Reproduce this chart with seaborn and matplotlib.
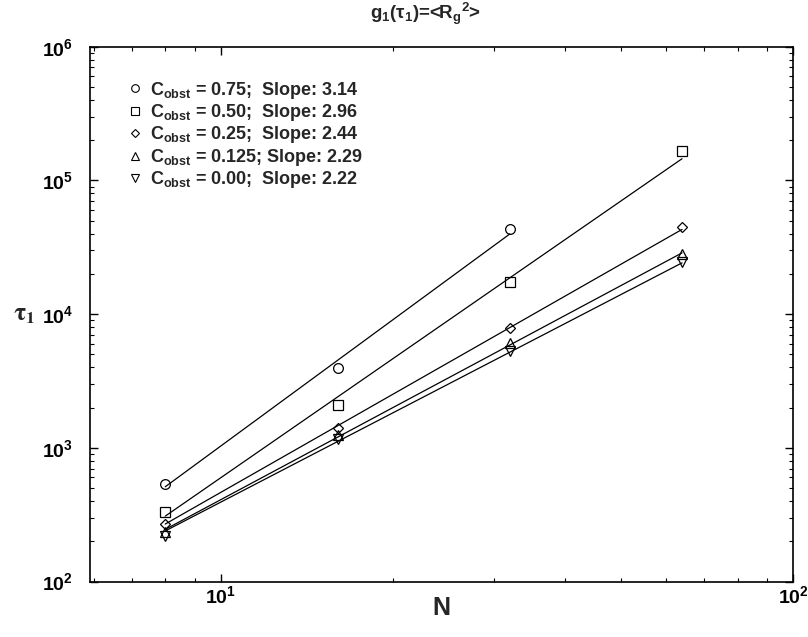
import numpy as np
import pandas as pd
import matplotlib
matplotlib.use("Agg")
import matplotlib.pyplot as plt
import seaborn as sns
from matplotlib.lines import Line2D

# данні
chain_n = [8, 16, 32, 64]
c_obst = ["0.75", "0.50", "0.25", "0.125", "0.00"]
slopes = [3.14, 2.96, 2.44, 2.29, 2.22]
marker_styles = ["o", "s", "D", "^", "v"]
tau_075 = [533, 3970, 43300]
tau_050 = [333, 2090, 17300, 166700]
tau_025 = [269, 1413, 7900, 44600]
tau_0125 = [234, 1247, 6050, 28100]
tau_000 = [219, 1164, 5300, 24700]
all_tau = [tau_075, tau_050, tau_025, tau_0125, tau_000]

sns.set_theme(style="ticks")
plt.rcParams["font.family"] = ["Liberation Sans", "DejaVu Sans"]
plt.rcParams["font.weight"] = "bold"
plt.rcParams["mathtext.fontset"] = "custom"
plt.rcParams["mathtext.rm"] = "Liberation Sans:bold"
plt.rcParams["mathtext.bf"] = "Liberation Sans:bold"
plt.rcParams["mathtext.it"] = "Liberation Sans:bold"
plt.rcParams["mathtext.default"] = "rm"

fig = plt.figure(figsize=(8.08, 6.37), dpi=100)
ax = fig.add_axes([0.1114, 0.0871, 0.870, 0.8396])

rows = []
for lab, tau in zip(c_obst, all_tau):
    for n, t in zip(chain_n, tau):
        rows.append({"N": n, "tau": t, "c": lab})
df = pd.DataFrame(rows)

handles = []
for lab, tau, k, m in zip(c_obst, all_tau, slopes, marker_styles):
    sub = df[df["c"] == lab]
    ln = np.log10(sub["N"].values)
    lt = np.log10(sub["tau"].values)
    b = np.mean(lt - k * ln)
    fit = pd.DataFrame({"N": sub["N"].values, "tau": 10 ** (b + k * ln)})
    sns.lineplot(data=fit, x="N", y="tau", ax=ax, color="black", lw=0.9, legend=False)
    ms = 7 if m != "D" else 5.5
    ax.plot(sub["N"], sub["tau"], linestyle="none", marker=m, markersize=ms,
            markerfacecolor="none", markeredgecolor="black", markeredgewidth=0.9)
    gap = "  " if lab != "0.125" else " "
    handles.append(Line2D([], [], linestyle="none", marker=m, markersize=5.5 if m != "D" else 4.5,
                          markerfacecolor="none", markeredgecolor="black", markeredgewidth=0.8,
                          label=f"C$_{{obst}}$ = {lab};{gap}Slope: {k:.2f}"))

ax.set_xscale("log")
ax.set_yscale("log")
ax.set_xlim(5.91, 100)
ax.set_ylim(100, 1e6)

for s in ax.spines.values():
    s.set_linewidth(1.2)
    s.set_color("black")
ax.tick_params(which="both", direction="in", top=True, right=True, colors="black",
               labelsize=14)
ax.tick_params(axis="y", pad=12)
ax.tick_params(axis="x", pad=3)
ax.tick_params(which="major", length=6, width=1)
ax.tick_params(which="minor", length=3, width=0.8)
for t in ax.get_xticklabels() + ax.get_yticklabels():
    t.set_fontweight("bold")

ax.set_xlabel("N", fontsize=18, fontweight="bold", va="center")
ax.xaxis.set_label_coords(0.5, -0.05)
ax.set_ylabel(r"$\tau_1$", fontsize=18, rotation=0, math_fontfamily="stix",
              va="center", ha="center")
ax.yaxis.set_label_coords(-0.094, 0.5)
fig.text(0.527, 0.978, r"g$_1$(τ$_1$)=<R$_g$$^2$>", ha="center", va="center",
         fontsize=13.5, fontweight="bold")

leg = ax.legend(handles=handles, loc="upper left", bbox_to_anchor=(0.043, 0.952),
                frameon=False, fontsize=13, handlelength=0.8, handletextpad=0.45,
                labelspacing=0.08, borderaxespad=0)

fig.savefig("out.png", dpi=100)
